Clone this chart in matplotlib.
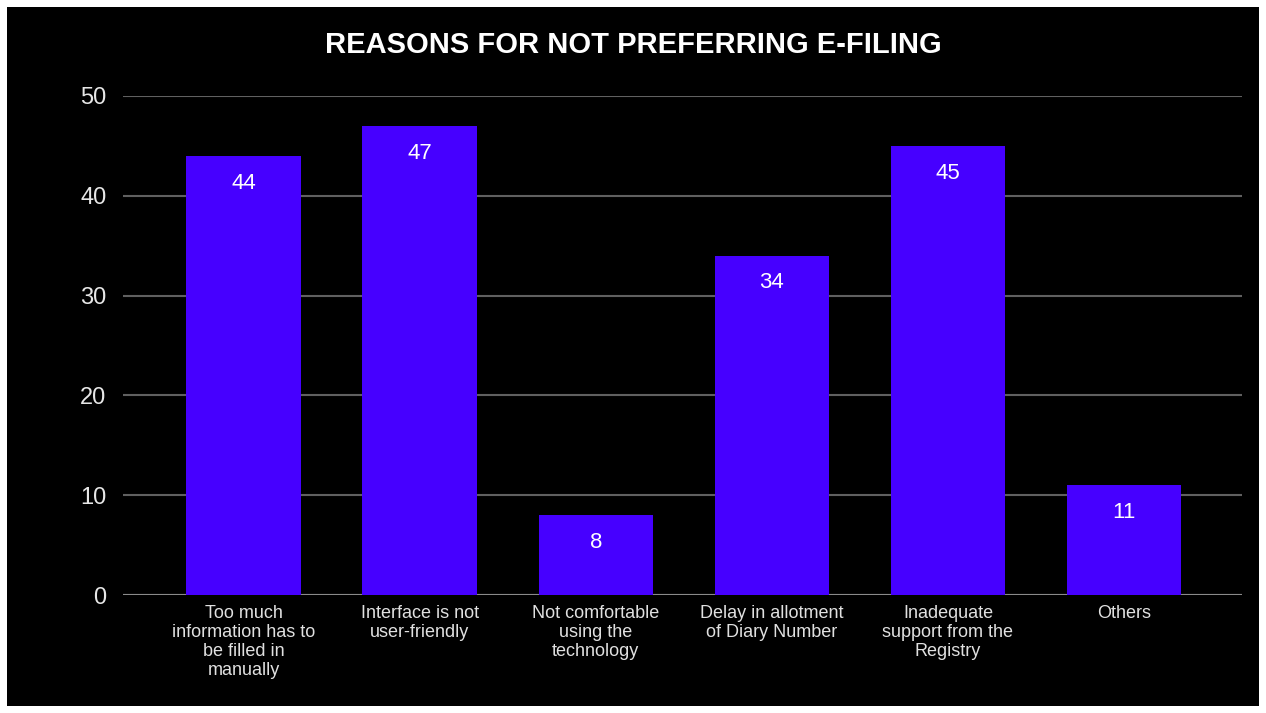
import matplotlib.pyplot as plt
from matplotlib.patches import Rectangle

# data
reasons = [
    "Too much\ninformation has to\nbe filled in\nmanually",
    "Interface is not\nuser-friendly",
    "Not comfortable\nusing the\ntechnology",
    "Delay in allotment\nof Diary Number",
    "Inadequate\nsupport from the\nRegistry",
    "Others",
]
counts = [44, 47, 8, 34, 45, 11]
yticks = [0, 10, 20, 30, 40, 50]

plt.rcParams['font.family'] = ['Liberation Sans', 'DejaVu Sans']

fig = plt.figure(figsize=(12.66, 7.13), dpi=100, facecolor='white')
# black panel inside a thin white border
fig.patches.append(Rectangle((7 / 1266, 7 / 713), 1252 / 1266, 699 / 713,
                             transform=fig.transFigure, facecolor='black',
                             edgecolor='none', zorder=-10))

ax = fig.add_axes([123 / 1266, 118 / 713, 1119 / 1266, 499 / 713])
ax.set_facecolor('none')

x = range(len(counts))
bars = ax.bar(x, counts, width=0.65, color='#4600ff', zorder=3)

for xi, v in zip(x, counts):
    ax.annotate(str(v), (xi, v), xytext=(0, -12), textcoords='offset points',
                ha='center', va='top', color='white', fontsize=16, zorder=4)

ax.set_xlim(-0.685, 5.67)
ax.set_ylim(0, 50)
ax.set_yticks(yticks)
ax.set_yticklabels([str(t) for t in yticks], fontsize=17, color='#e6e6e6')
ax.set_xticks(list(x))
ax.set_xticklabels(reasons, fontsize=13, color='#e0e0e0', linespacing=1.15,
                   va='top')
ax.tick_params(axis='both', length=0)
ax.tick_params(axis='y', pad=12)
ax.tick_params(axis='x', pad=7)

ax.grid(axis='y', color='#606060', linewidth=1.5, zorder=0)
ax.axhline(0, color='#8a8a8a', linewidth=1.5, zorder=2)
for s in ax.spines.values():
    s.set_visible(False)

fig.text(633 / 1266, 1 - 45 / 713, "REASONS FOR NOT PREFERRING E-FILING",
         ha='center', va='center', color='white', fontsize=21,
         fontweight='bold')

plt.savefig('out.png', dpi=100, facecolor='white')
